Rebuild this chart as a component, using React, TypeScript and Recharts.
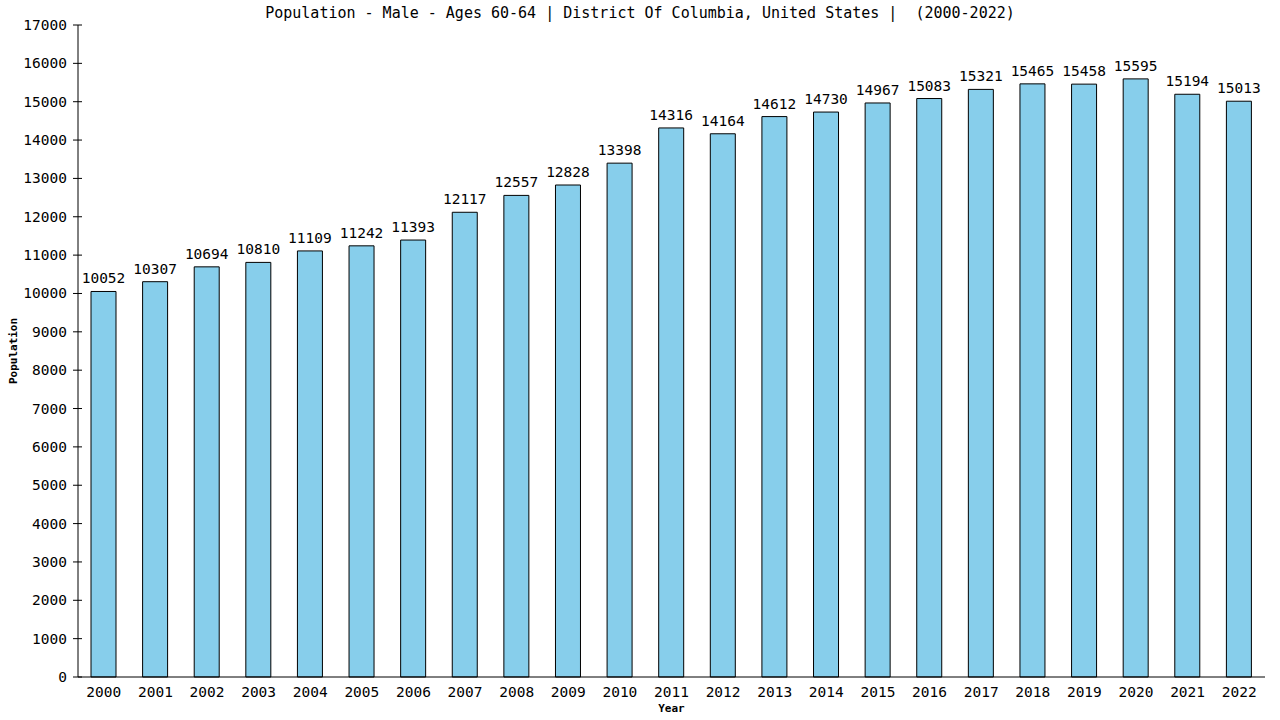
import React from "react";
import { BarChart, Bar, XAxis, YAxis, LabelList } from "recharts";

const years = ["2000","2001","2002","2003","2004","2005","2006","2007","2008","2009","2010","2011","2012","2013","2014","2015","2016","2017","2018","2019","2020","2021","2022"];
const population = [10052,10307,10694,10810,11109,11242,11393,12117,12557,12828,13398,14316,14164,14612,14730,14967,15083,15321,15465,15458,15595,15194,15013];
const yTicks = [0,1000,2000,3000,4000,5000,6000,7000,8000,9000,10000,11000,12000,13000,14000,15000,16000,17000];
const title = "Population - Male - Ages 60-64 | District Of Columbia, United States |  (2000-2022)";

const data = years.map((y, i) => ({ year: y, value: population[i] }));

const FONT = "'DejaVu Sans Mono', monospace";

const YTick = (props: any) => {
  const { x, y, payload } = props;
  return (
    <g>
      <line x1={x + 4} x2={x + 13} y1={y} y2={y} stroke="#000" />
      <text x={x - 2} y={y} dy={5} textAnchor="end" fontFamily={FONT} fontSize={14.5} fill="#000">
        {payload.value}
      </text>
    </g>
  );
};

export default function App() {
  return (
    <div style={{ position: "absolute", left: 0, top: 0, width: 1280, height: 720, background: "#fff" }}>
      <div
        style={{
          position: "absolute",
          left: 0,
          top: 4,
          width: 1280,
          textAlign: "center",
          fontFamily: FONT,
          fontSize: 15,
          color: "#000",
          whiteSpace: "pre",
          lineHeight: "18px",
        }}
      >
        {title}
      </div>
      <BarChart
        width={1280}
        height={720}
        data={data}
        margin={{ top: 25, right: 15, bottom: 13, left: 20 }}
        barCategoryGap="25%"
      >
        <XAxis
          dataKey="year"
          tickLine={false}
          axisLine={{ stroke: "#000" }}
          tick={{ fontFamily: FONT, fontSize: 14.5, fill: "#000" }}
          tickMargin={4}
          height={30}
          interval={0}
          label={{ value: "Year", position: "insideBottom", offset: -5, style: { fontFamily: FONT, fontSize: 11, fontWeight: "bold", fill: "#000" } }}
        />
        <YAxis
          domain={[0, 17000]}
          ticks={yTicks}
          interval={0}
          width={58}
          tickLine={false}
          tickSize={9}
          tickMargin={0}
          axisLine={{ stroke: "#000" }}
          tick={<YTick />}
          label={{ value: "Population", angle: -90, position: "insideLeft", offset: -7, style: { fontFamily: FONT, fontSize: 11, fontWeight: "bold", fill: "#000", textAnchor: "middle" } }}
        />
        <YAxis yAxisId="right" orientation="right" width={0} tick={false} tickLine={false} axisLine={{ stroke: "#000" }} domain={[0, 17000]} />
        <Bar dataKey="value" fill="#87CEEB" stroke="#000" strokeWidth={1} isAnimationActive={false} barSize={25}>
          <LabelList dataKey="value" position="top" offset={8} style={{ fontFamily: FONT, fontSize: 14.5, fill: "#000" }} />
        </Bar>
      </BarChart>
    </div>
  );
}
